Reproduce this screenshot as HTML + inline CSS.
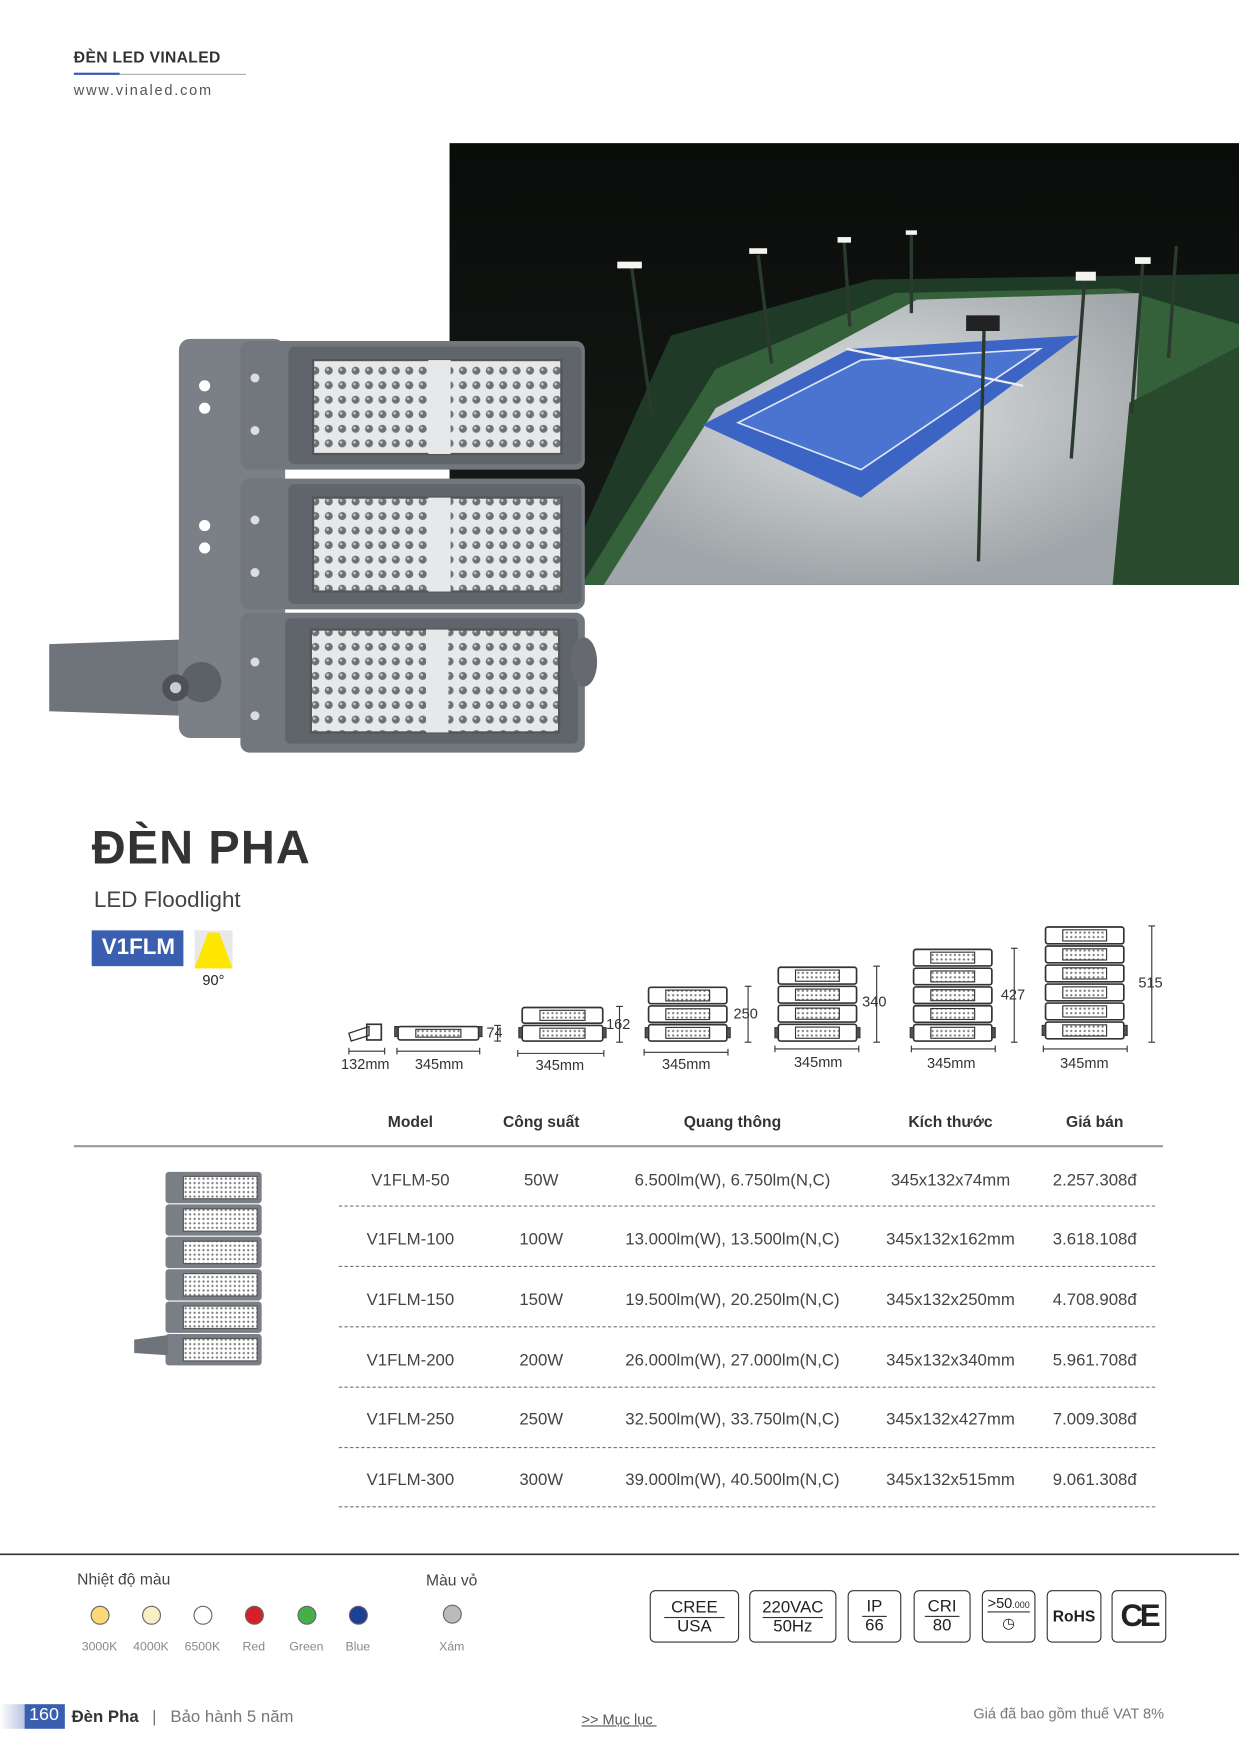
<!DOCTYPE html>
<html><head><meta charset="utf-8">
<style>
html,body{margin:0;padding:0;background:#fff;}
body{width:1239px;height:1754px;overflow:hidden;position:relative;}
#s{position:absolute;left:0;top:0;width:1108px;height:1568px;transform:scale(1.11823,1.11823);transform-origin:0 0;font-family:"Liberation Sans",sans-serif;color:#333;}
.a{position:absolute;white-space:nowrap;}
.th{font-weight:bold;font-size:14px;color:#333;transform:translateX(-50%);}
.td{font-size:15px;color:#444;transform:translateX(-50%);}
.dl{position:absolute;left:303px;width:730px;border-top:1px dashed #777;}
.cb{position:absolute;top:1422px;height:47px;border:1.5px solid #333;border-radius:5px;box-sizing:border-box;text-align:center;font-size:15px;color:#222;}
.lbl{font-size:11px;color:#888;transform:translateX(-50%);}
.dot{position:absolute;width:17px;height:17px;border-radius:50%;border:1px solid #666;box-sizing:border-box;top:1436px;}
</style></head><body>
<div id="s">
<div class="a" style="left:66px;top:43px;font-size:14px;font-weight:bold;color:#333;letter-spacing:0.3px">ĐÈN LED VINALED</div>
<div class="a" style="left:66px;top:65px;width:41px;height:2px;background:#3a5fb0"></div>
<div class="a" style="left:107px;top:66px;width:113px;height:1px;background:#aaa"></div>
<div class="a" style="left:66px;top:73px;font-size:13px;color:#555;letter-spacing:1.6px">www.vinaled.com</div>

<svg class="a" style="left:0;top:0" width="1108" height="1568">
<defs>
<pattern id="led" width="12" height="13" patternUnits="userSpaceOnUse"><rect width="12" height="13" fill="#e6e8ea"/><circle cx="6" cy="6.5" r="3.6" fill="#6c7176"/><circle cx="5" cy="5.5" r="1.2" fill="#c9ccd0"/></pattern>
<pattern id="tiny" width="4" height="4" patternUnits="userSpaceOnUse"><rect width="4" height="4" fill="#fff"/><circle cx="2" cy="2" r="1" fill="#777"/></pattern>
<linearGradient id="sky" x1="0" y1="0" x2="0" y2="1"><stop offset="0" stop-color="#0a0c0a"/><stop offset="1" stop-color="#161c18"/></linearGradient>
<radialGradient id="fl" cx="0.5" cy="0.4" r="0.6"><stop offset="0" stop-color="#dfe2e3"/><stop offset="1" stop-color="#9fa5a8"/></radialGradient>
</defs>
<!-- photo -->
<rect x="402" y="128" width="706" height="395" fill="url(#sky)"/>
<polygon points="500,523 600,300 780,250 1108,245 1108,523" fill="#1f3b27"/>
<polygon points="520,523 640,330 800,262 1000,258 1108,290 1108,523" fill="#34603a"/>
<polygon points="540,523 640,365 820,268 1020,262 1010,523" fill="url(#fl)"/>
<polygon points="628,380 760,312 965,300 770,445" fill="#3b64c4"/>
<polygon points="660,378 770,322 930,312 770,420" fill="#4a74d0" stroke="#dfe6f5" stroke-width="1.5"/>
<line x1="757" y1="312" x2="915" y2="345" stroke="#eee" stroke-width="2"/>
<polygon points="1010,360 1108,310 1108,523 995,523" fill="#2a4a2e"/>
<g stroke="#2b3a2f" stroke-width="3">
<line x1="565" y1="240" x2="583" y2="372"/><line x1="678" y1="228" x2="690" y2="325"/><line x1="755" y1="217" x2="760" y2="292"/><line x1="815" y1="210" x2="815" y2="280"/><line x1="880" y1="295" x2="875" y2="502"/><line x1="970" y1="250" x2="958" y2="410"/><line x1="1022" y1="235" x2="1012" y2="370"/><line x1="1052" y1="220" x2="1045" y2="320"/>
</g>
<g fill="#f5f5f0"><rect x="552" y="234" width="22" height="6"/><rect x="670" y="222" width="16" height="5"/><rect x="749" y="212" width="12" height="5"/><rect x="810" y="206" width="10" height="4"/><rect x="864" y="282" width="30" height="14" fill="#222"/><rect x="962" y="243" width="18" height="8"/><rect x="1015" y="230" width="14" height="6"/></g>
<!-- big floodlight -->
<polygon points="44,576 160,572 160,640 44,636" fill="#6f737a"/>
<rect x="160" y="303" width="95" height="357" rx="10" fill="#7b7f86"/>
<circle cx="180" cy="610" r="18" fill="#5c6067"/><circle cx="157" cy="615" r="12" fill="#4e5258"/><circle cx="157" cy="615" r="5" fill="#ccc"/>
<circle cx="183" cy="345" r="5" fill="#fff"/><circle cx="183" cy="365" r="5" fill="#fff"/><circle cx="183" cy="470" r="5" fill="#fff"/><circle cx="183" cy="490" r="5" fill="#fff"/>
<g>
<rect x="215" y="305" width="308" height="115" rx="8" fill="#72767d"/><rect x="258" y="310" width="262" height="105" rx="5" fill="#60646b"/>
<rect x="280" y="322" width="222" height="84" fill="url(#led)" stroke="#555" stroke-width="2"/><rect x="383" y="322" width="20" height="84" fill="#e6e8ea"/>
<rect x="215" y="428" width="308" height="117" rx="8" fill="#72767d"/><rect x="258" y="433" width="262" height="107" rx="5" fill="#60646b"/>
<rect x="280" y="445" width="222" height="84" fill="url(#led)" stroke="#555" stroke-width="2"/><rect x="383" y="445" width="20" height="84" fill="#e6e8ea"/>
<rect x="215" y="548" width="308" height="125" rx="8" fill="#72767d"/><rect x="255" y="553" width="262" height="112" rx="5" fill="#60646b"/>
<rect x="278" y="563" width="222" height="92" fill="url(#led)" stroke="#555" stroke-width="2"/><rect x="381" y="563" width="20" height="92" fill="#e6e8ea"/>
<ellipse cx="522" cy="592" rx="12" ry="22" fill="#666a70"/>
</g>
<g fill="#ddd"><circle cx="228" cy="338" r="4"/><circle cx="228" cy="385" r="4"/><circle cx="228" cy="465" r="4"/><circle cx="228" cy="512" r="4"/><circle cx="228" cy="592" r="4"/><circle cx="228" cy="640" r="4"/></g>
<!-- badge icon -->
<rect x="82" y="832" width="82" height="32" fill="#3a5fb0"/>
<rect x="174" y="832" width="34" height="34" fill="#e8e8e8"/><polygon points="186,834 196,834 208,866 174,866" fill="#ffe600"/>
<g id="dims" fill="none" stroke="#333" stroke-width="1"></g>
<g id="thumb"></g>
<line x1="66" y1="1025" x2="1040" y2="1025" stroke="#999" stroke-width="2"/>
<line x1="0" y1="1390" x2="1108" y2="1390" stroke="#333" stroke-width="1.5"/>
<defs><linearGradient id="fg" x1="0" x2="1"><stop offset="0" stop-color="#fff"/><stop offset="1" stop-color="#b9c4e2"/></linearGradient></defs>
<rect x="0" y="1524" width="22" height="22" fill="url(#fg)"/>
<rect x="22" y="1524" width="36" height="22" fill="#3a5fb0"/>
</svg>

<div class="a" style="left:82px;top:734px;font-size:42px;font-weight:bold;color:#333;letter-spacing:1px">ĐÈN PHA</div>
<div class="a" style="left:84px;top:794px;font-size:20px;color:#444">LED Floodlight</div>
<div class="a" style="left:91px;top:836px;font-size:20px;font-weight:bold;color:#fff">V1FLM</div>
<div class="a" style="left:181px;top:869px;font-size:13px;color:#222">90°</div>

<div class="a" style="left:305px;top:944px;font-size:13px">132mm</div>
<div class="a" style="left:371px;top:944px;font-size:13px">345mm</div>
<div class="a" style="left:435px;top:916px;font-size:13px">74</div>
<div class="a" style="left:479px;top:945px;font-size:13px">345mm</div>
<div class="a" style="left:542px;top:908px;font-size:13px">162</div>
<div class="a" style="left:592px;top:944px;font-size:13px">345mm</div>
<div class="a" style="left:656px;top:899px;font-size:13px">250</div>
<div class="a" style="left:710px;top:942px;font-size:13px">345mm</div>
<div class="a" style="left:771px;top:888px;font-size:13px">340</div>
<div class="a" style="left:829px;top:943px;font-size:13px">345mm</div>
<div class="a" style="left:895px;top:882px;font-size:13px">427</div>
<div class="a" style="left:948px;top:943px;font-size:13px">345mm</div>
<div class="a" style="left:1018px;top:871px;font-size:13px">515</div>

<div class="a th" style="left:367px;top:995px">Model</div>
<div class="a th" style="left:484px;top:995px">Công suất</div>
<div class="a th" style="left:655px;top:995px">Quang thông</div>
<div class="a th" style="left:850px;top:995px">Kích thước</div>
<div class="a th" style="left:979px;top:995px">Giá bán</div>

<div class="a td" style="left:367px;top:1047px">V1FLM-50</div><div class="a td" style="left:484px;top:1047px">50W</div><div class="a td" style="left:655px;top:1047px">6.500lm(W), 6.750lm(N,C)</div><div class="a td" style="left:850px;top:1047px">345x132x74mm</div><div class="a td" style="left:979px;top:1047px">2.257.308đ</div>
<div class="dl" style="top:1078px"></div>
<div class="a td" style="left:367px;top:1100px">V1FLM-100</div><div class="a td" style="left:484px;top:1100px">100W</div><div class="a td" style="left:655px;top:1100px">13.000lm(W), 13.500lm(N,C)</div><div class="a td" style="left:850px;top:1100px">345x132x162mm</div><div class="a td" style="left:979px;top:1100px">3.618.108đ</div>
<div class="dl" style="top:1132px"></div>
<div class="a td" style="left:367px;top:1154px">V1FLM-150</div><div class="a td" style="left:484px;top:1154px">150W</div><div class="a td" style="left:655px;top:1154px">19.500lm(W), 20.250lm(N,C)</div><div class="a td" style="left:850px;top:1154px">345x132x250mm</div><div class="a td" style="left:979px;top:1154px">4.708.908đ</div>
<div class="dl" style="top:1186px"></div>
<div class="a td" style="left:367px;top:1208px">V1FLM-200</div><div class="a td" style="left:484px;top:1208px">200W</div><div class="a td" style="left:655px;top:1208px">26.000lm(W), 27.000lm(N,C)</div><div class="a td" style="left:850px;top:1208px">345x132x340mm</div><div class="a td" style="left:979px;top:1208px">5.961.708đ</div>
<div class="dl" style="top:1240px"></div>
<div class="a td" style="left:367px;top:1261px">V1FLM-250</div><div class="a td" style="left:484px;top:1261px">250W</div><div class="a td" style="left:655px;top:1261px">32.500lm(W), 33.750lm(N,C)</div><div class="a td" style="left:850px;top:1261px">345x132x427mm</div><div class="a td" style="left:979px;top:1261px">7.009.308đ</div>
<div class="dl" style="top:1294px"></div>
<div class="a td" style="left:367px;top:1315px">V1FLM-300</div><div class="a td" style="left:484px;top:1315px">300W</div><div class="a td" style="left:655px;top:1315px">39.000lm(W), 40.500lm(N,C)</div><div class="a td" style="left:850px;top:1315px">345x132x515mm</div><div class="a td" style="left:979px;top:1315px">9.061.308đ</div>
<div class="dl" style="top:1347px"></div>

<div class="a" style="left:69px;top:1404px;font-size:14px;color:#444">Nhiệt độ màu</div>
<div class="a" style="left:381px;top:1405px;font-size:14px;color:#444">Màu vỏ</div>
<div class="dot" style="left:81px;background:#fdd878"></div>
<div class="dot" style="left:127px;background:#fbedc4"></div>
<div class="dot" style="left:173px;background:#fff"></div>
<div class="dot" style="left:219px;background:#d3202a"></div>
<div class="dot" style="left:266px;background:#45b04a"></div>
<div class="dot" style="left:312px;background:#1d3f95"></div>
<div class="dot" style="left:396px;top:1435px;background:#bbb"></div>
<div class="a lbl" style="left:89px;top:1467px">3000K</div><div class="a lbl" style="left:135px;top:1467px">4000K</div><div class="a lbl" style="left:181px;top:1467px">6500K</div><div class="a lbl" style="left:227px;top:1467px">Red</div><div class="a lbl" style="left:274px;top:1467px">Green</div><div class="a lbl" style="left:320px;top:1467px">Blue</div><div class="a lbl" style="left:404px;top:1467px">Xám</div>

<div class="cb" style="left:581px;width:80px;line-height:17px;padding-top:6px"><span style="border-bottom:1.5px solid #333;padding:0 6px">CREE</span><br>USA</div>
<div class="cb" style="left:670px;width:78px;line-height:17px;padding-top:6px"><span style="border-bottom:1.5px solid #333">220VAC</span><br>50Hz</div>
<div class="cb" style="left:758px;width:48px;line-height:17px;padding-top:5px"><span style="border-bottom:1.5px solid #333;padding:0 4px">IP</span><br>66</div>
<div class="cb" style="left:817px;width:51px;line-height:17px;padding-top:5px"><span style="border-bottom:1.5px solid #333;padding:0 3px">CRI</span><br>80</div>
<div class="cb" style="left:878px;width:48px;line-height:16px;padding-top:3px;font-size:13px"><span style="border-bottom:1.5px solid #333">&gt;50<span style="font-size:8px">.000</span></span><br>◷</div>
<div class="cb" style="left:936px;width:49px;line-height:44px;font-weight:bold;font-size:14px">RoHS</div>
<div class="cb" style="left:994px;width:49px;line-height:44px;font-size:28px;font-weight:bold;letter-spacing:-3px">CE</div>

<div class="a" style="left:26px;top:1525px;font-size:16px;color:#fff">160</div>
<div class="a" style="left:64px;top:1527px;font-size:15px;font-weight:bold;color:#333">Đèn Pha</div>
<div class="a" style="left:136px;top:1527px;font-size:15px;color:#777">|&nbsp;&nbsp; Bảo hành 5 năm</div>
<div class="a" style="left:520px;top:1530px;font-size:13px;color:#555;text-decoration:underline">&gt;&gt; Mục lục&nbsp;</div>
<div class="a" style="right:67px;top:1525px;font-size:13px;color:#777">Giá đã bao gồm thuế VAT 8%</div>
</div>
<script>
var NS="http://www.w3.org/2000/svg";
function el(p,t,a){var e=document.createElementNS(NS,t);for(var k in a)e.setAttribute(k,a[k]);p.appendChild(e);return e;}
var g=document.getElementById('dims');
function stack(x,n,w,bottom,mh){for(var i=0;i<n;i++){var y=bottom-(i+1)*mh;el(g,'rect',{x:x,y:y+1,width:w,height:mh-2,rx:2,'stroke-width':1.5});el(g,'rect',{x:x+w*0.22,y:y+3.5,width:w*0.56,height:mh-7,fill:'url(#tiny)','stroke-width':1});}
el(g,'rect',{x:x-3,y:bottom-13,width:3,height:9,fill:'#555'});el(g,'rect',{x:x+w,y:bottom-13,width:3,height:9,fill:'#555'});}
function hl(x1,x2,y){el(g,'line',{x1:x1,y1:y,x2:x2,y2:y});el(g,'line',{x1:x1,y1:y-3,x2:x1,y2:y+3});el(g,'line',{x1:x2,y1:y-3,x2:x2,y2:y+3});}
function vl(x,y1,y2){el(g,'line',{x1:x,y1:y1,x2:x,y2:y2});el(g,'line',{x1:x-3,y1:y1,x2:x+3,y2:y1});el(g,'line',{x1:x-3,y1:y2,x2:x+3,y2:y2});}
stack(356,1,72,931,14);stack(467,2,72,932,16);stack(580,3,70,932,16.7);stack(696,4,70,932,17);stack(817,5,70,932,16.8);stack(935,6,70,930,17);
el(g,'rect',{x:328,y:916,width:13,height:14,'stroke-width':1.5});el(g,'polygon',{points:'312,924 330,918 330,926 314,931','stroke-width':1.2});
hl(312,344,940);hl(355,429,940);hl(463,540,942);hl(576,651,941);hl(693,768,938);hl(815,890,938);hl(933,1008,938);
vl(445,917,931);vl(554,900,932);vl(669,882,932);vl(784,864,932);vl(907,848,932);vl(1030,828,932);
var t=document.getElementById('thumb');
for(var i=0;i<6;i++){var y=1048+i*29;el(t,'rect',{x:148,y:y,width:86,height:28,rx:3,fill:'#7a7e85'});el(t,'rect',{x:164,y:y+4,width:66,height:20,fill:'url(#tiny)',stroke:'#555'});}
el(t,'polygon',{points:'120,1198 150,1194 150,1212 120,1210',fill:'#6f737a'});
</script>
</body></html>
